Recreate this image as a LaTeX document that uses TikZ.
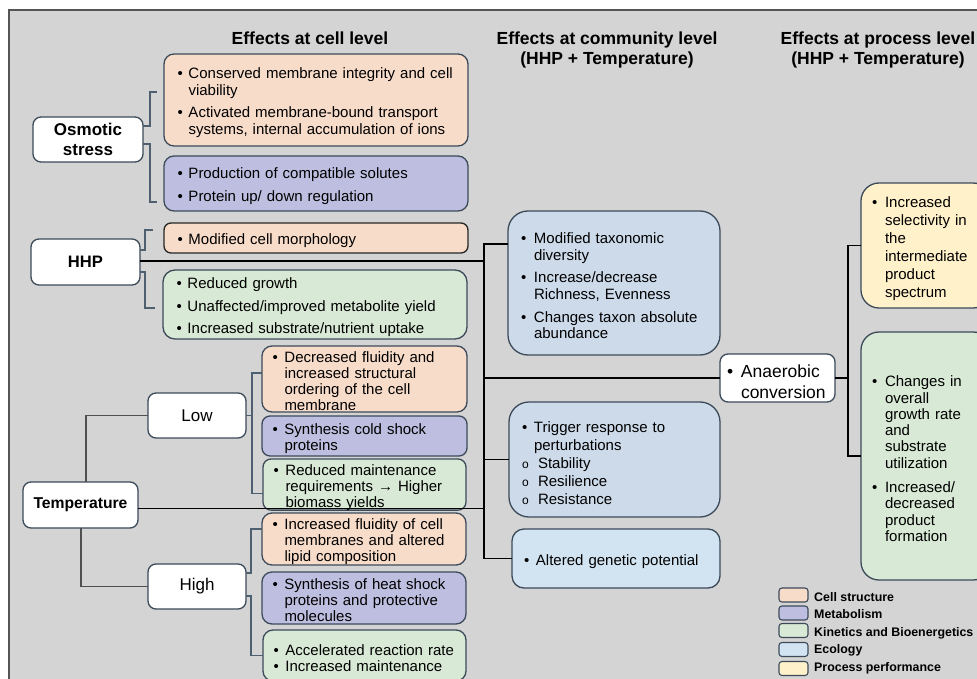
\documentclass[tikz,border=0pt]{standalone}
\usepackage{fontspec}
\setmainfont{Liberation Sans}
\definecolor{bgc}{HTML}{D3D4D3}
\definecolor{orng}{HTML}{F8DCCA}
\definecolor{purp}{HTML}{BEBEE0}
\definecolor{grn}{HTML}{D8E9D5}
\definecolor{comm}{HTML}{CDDAEA}
\definecolor{eco}{HTML}{D2E4F2}
\definecolor{yel}{HTML}{FFF1CA}
\definecolor{bord}{HTML}{3C4A5A}
\definecolor{brkc}{HTML}{4E5F70}
\definecolor{tcol}{HTML}{505050}
\definecolor{framec}{HTML}{555555}
\newlength{\bw}\setlength{\bw}{11pt}
\newcommand{\itm}{\par\noindent\hangindent=\bw\hangafter=1\makebox[\bw][l]{\textbullet}\ignorespaces}
\newcommand{\nxt}[1][6pt]{\par\vspace{#1}\itm}
\newcommand{\sitm}{\par\noindent\hangindent=16pt\hangafter=1\makebox[16pt][l]{\fontsize{12}{12}\selectfont o}\ignorespaces}
\tikzset{
 bx/.style={draw=bord, line width=1.3pt, anchor=north west, outer sep=0pt, inner ysep=0pt, align=left, font=\fontsize{15}{16.5}\selectfont},
 lbx/.style={draw=bord, line width=1.3pt, fill=white, rounded corners=8pt, anchor=north west, outer sep=0pt, inner sep=0pt, align=center},
 hdr/.style={font=\fontsize{17.5}{21}\selectfont\bfseries, anchor=base, inner sep=0pt},
 conn/.style={line width=1.2pt, draw=black},
 brk/.style={line width=1.2pt, draw=brkc},
 tconn/.style={line width=1.2pt, draw=tcol},
 leg/.style={draw=bord, line width=1.1pt, rounded corners=3pt, anchor=north west, minimum width=29pt, minimum height=14pt, inner sep=0pt, outer sep=0pt},
 legt/.style={font=\fontsize{12.4}{14}\selectfont\bfseries, anchor=base west, inner sep=0pt},
}
\begin{document}
\begin{tikzpicture}[x=1pt,y=-1pt]
\useasboundingbox (0,0) rectangle (977,679);
\clip (0,0) rectangle (977,679);
\fill[white] (0,0) rectangle (977,679);
\fill[bgc] (9,10) rectangle (990,690);
\draw[framec, line width=1.2pt] (9,690) -- (9,10) -- (990,10);

% headers
\node[hdr] (hd1) at (310,44.5) {Effects at cell level};
\node[hdr] (hd2) at (607,44.5) {Effects at community level};
\node[hdr] (hd2b) at (607,65) {(HHP + Temperature)};
\node[hdr] (hd3) at (878,44.5) {Effects at process level};
\node[hdr] (hd3b) at (878,65) {(HHP + Temperature)};

% left factor boxes
\node[lbx, minimum width=110pt, minimum height=45pt, font=\fontsize{17}{20}\selectfont\bfseries] (osm) at (33,117) {Osmotic\\stress};
\node[lbx, minimum width=109pt, minimum height=46pt, font=\fontsize{16.6}{20}\selectfont\bfseries] (hhp) at (31,239) {HHP};
\node[lbx, minimum width=98pt, minimum height=45pt, font=\fontsize{17}{20}\selectfont] (low) at (148,393) {Low};
\node[lbx, minimum width=98pt, minimum height=45pt, font=\fontsize{17}{20}\selectfont] (high) at (148,564) {High};
\node[lbx, minimum width=115pt, minimum height=46pt, font=\fontsize{15.7}{19}\selectfont\bfseries] (temp) at (23,482) {Temperature};

% cell level boxes
\node[bx, fill=orng, rounded corners=10pt, minimum width=304pt, minimum height=92pt, text width=277pt, inner xsep=13.5pt] (o1) at (164,54)
 {\itm Conserved membrane integrity and cell\newline viability\nxt Activated membrane-bound transport\newline systems, internal accumulation of ions\par};
\node[bx, fill=purp, rounded corners=10pt, minimum width=304pt, minimum height=55pt, text width=277pt, inner xsep=13.5pt] (o2) at (164,156)
 {\itm Production of compatible solutes\nxt Protein up/ down regulation\par};
\node[bx, fill=orng, rounded corners=7pt, minimum width=304pt, minimum height=30pt, text width=277pt, inner xsep=13.5pt, draw=black!85] (h1) at (164,223)
 {\itm Modified cell morphology\par};
\node[bx, fill=grn, rounded corners=12pt, minimum width=304pt, minimum height=69pt, text width=277pt, inner xsep=13.5pt] (h2) at (163,270)
 {\itm Reduced growth\nxt Unaffected/improved metabolite yield\nxt Increased substrate/nutrient uptake\par};

\node[bx, fill=orng, rounded corners=10pt, minimum width=205pt, minimum height=66pt, text width=184pt, inner xsep=10.5pt, font=\fontsize{15}{16}\selectfont] (lo1) at (262,346)
 {\setlength{\bw}{12pt}\itm Decreased fluidity and\newline increased structural\newline ordering of the cell\newline membrane\par};
\node[bx, fill=purp, rounded corners=8pt, minimum width=205pt, minimum height=40pt, text width=184pt, inner xsep=10.5pt, font=\fontsize{15}{16}\selectfont] (lo2) at (262,416)
 {\setlength{\bw}{12pt}\itm Synthesis cold shock\newline proteins\par};
\node[bx, fill=grn, rounded corners=8pt, minimum width=203pt, minimum height=48pt, text width=182pt, inner xsep=10.5pt, font=\fontsize{15}{16}\selectfont] (lo3) at (263,459)
 {\setlength{\bw}{12pt}\itm Reduced maintenance\newline requirements → Higher\newline biomass yields\par};

\node[bx, fill=orng, rounded corners=10pt, minimum width=204pt, minimum height=52pt, text width=183pt, inner xsep=10.5pt, font=\fontsize{15}{16}\selectfont] (hi1) at (262,513)
 {\setlength{\bw}{12pt}\itm Increased fluidity of cell\newline membranes and altered\newline lipid composition\par};
\node[bx, fill=purp, rounded corners=10pt, minimum width=204pt, minimum height=52pt, text width=183pt, inner xsep=10.5pt, font=\fontsize{15}{16}\selectfont] (hi2) at (262,572)
 {\setlength{\bw}{12pt}\itm Synthesis of heat shock\newline proteins and protective\newline molecules\par};
\node[bx, fill=grn, rounded corners=10pt, minimum width=203pt, minimum height=51pt, text width=182pt, inner xsep=10.5pt, font=\fontsize{15}{16}\selectfont] (hi3) at (263,630)
 {\setlength{\bw}{12pt}\itm Accelerated reaction rate\nxt[0pt] Increased maintenance\par};

% community level
\node[bx, fill=comm, rounded corners=20pt, minimum width=212pt, minimum height=144pt, text width=186pt, inner xsep=13pt, font=\fontsize{15}{16.3}\selectfont] (c1) at (508,211)
 {\setlength{\bw}{13pt}\itm Modified taxonomic\newline diversity\nxt[6.5pt] Increase/decrease\newline Richness, Evenness\nxt[6.5pt] Changes taxon absolute\newline abundance\par};
\node[bx, fill=comm, rounded corners=20pt, minimum width=211pt, minimum height=115pt, text width=185pt, inner xsep=13pt, font=\fontsize{15}{18}\selectfont] (c2) at (509,402)
 {\setlength{\bw}{12pt}\itm Trigger response to\newline perturbations\sitm Stability\sitm Resilience\sitm Resistance\par};
\node[bx, fill=eco, rounded corners=12pt, minimum width=208pt, minimum height=59pt, text width=184pt, inner xsep=12pt] (c3) at (512,529)
 {\setlength{\bw}{12pt}\itm Altered genetic potential\par};

% process level
\node[bx, fill=white, rounded corners=8pt, minimum width=115pt, minimum height=48pt, text width=101pt, inner xsep=7pt, font=\fontsize{17.5}{21}\selectfont] (an) at (720,354)
 {\setlength{\bw}{14pt}\itm Anaerobic\newline conversion\par};
\node[bx, fill=yel, rounded corners=18pt, minimum width=130pt, minimum height=125pt, text width=108pt, inner xsep=11pt, font=\fontsize{15}{18}\selectfont] (y1) at (861,183)
 {\setlength{\bw}{13pt}\itm Increased\newline selectivity in\newline the\newline intermediate\newline product\newline spectrum\par};
\node[bx, fill=grn, rounded corners=18pt, minimum width=130pt, minimum height=248pt, text width=108pt, inner xsep=11pt, font=\fontsize{15}{16.3}\selectfont] (g1) at (861,332)
 {\setlength{\bw}{13pt}\itm Changes in\newline overall\newline growth rate\newline and\newline substrate\newline utilization\nxt[8pt] Increased/\newline decreased\newline product\newline formation\par};

% legend
\node[leg, fill=orng] (l1) at (779,588) {};
\node[leg, fill=purp] (l2) at (779,606) {};
\node[leg, fill=grn] (l3) at (779,623.5) {};
\node[leg, fill=eco] (l4) at (779,642.5) {};
\node[leg, fill=yel] (l5) at (779,661.5) {};
\node[legt] (t1) at (814,601.5) {Cell structure};
\node[legt] (t2) at (814,618.5) {Metabolism};
\node[legt] (t3) at (814,636) {Kinetics and Bioenergetics};
\node[legt] (t4) at (814,653.5) {Ecology};
\node[legt] (t5) at (814,671) {Process performance};

% connectors
\coordinate (ob1) at (157,92);
\coordinate (ob2) at (157,202);
\draw[brk] ([yshift=13.5pt]osm.east) -- ++(7,0) |- (ob1);
\draw[brk] ([yshift=-4.5pt]osm.east) -- ++(7,0) |- (ob2);

\coordinate (hb1) at (153,230);
\coordinate (hb2) at (155,308);
\draw[brk] ([yshift=12pt]hhp.east) -- ++(5,0) |- (hb1);
\draw[brk] ([yshift=-10pt]hhp.east) -- ++(5,0) |- (hb2);

\coordinate (busT) at (484,244);
\draw[conn] ([yshift=1pt]hhp.east) -- ([yshift=1pt]hhp.east -| busT);
\draw[conn] (c1.west |- busT) -- (busT) -- (busT |- c3.west) -- (c3.west);
\draw[conn] (busT |- an.west) -- (an.west);
\draw[conn] (busT |- c2.west) -- (c2.west);
\draw[conn] ([yshift=-3.5pt]temp.east) -- ([yshift=-3.5pt]temp.east -| busT);

\coordinate (pb) at (848,0);
\draw[conn] (an.east) -- (an.east -| pb);
\draw[conn] (y1.west) -- (y1.west -| pb) -- (g1.west -| pb) -- (g1.west);

\draw[tconn] ([xshift=5.5pt]temp.north) |- (low.west);
\draw[tconn] ([xshift=0.5pt]temp.south) |- (high.west);

\coordinate (lbx) at (252,0);
\draw[brk] (low.east) -- (low.east -| lbx);
\draw[brk] ([yshift=6pt]lo1.west) -- ([yshift=6pt]lo1.west -| lbx) -- ([yshift=-9pt]lo3.west -| lbx) -- ([yshift=-9pt]lo3.west);

\draw[brk] ([yshift=13.5pt]high.east) -- ++(5,0) |- ([yshift=10pt]hi1.west);
\draw[brk] ([yshift=-9.5pt]high.east) -- ++(5,0) |- (hi3.west);
\end{tikzpicture}
\end{document}
